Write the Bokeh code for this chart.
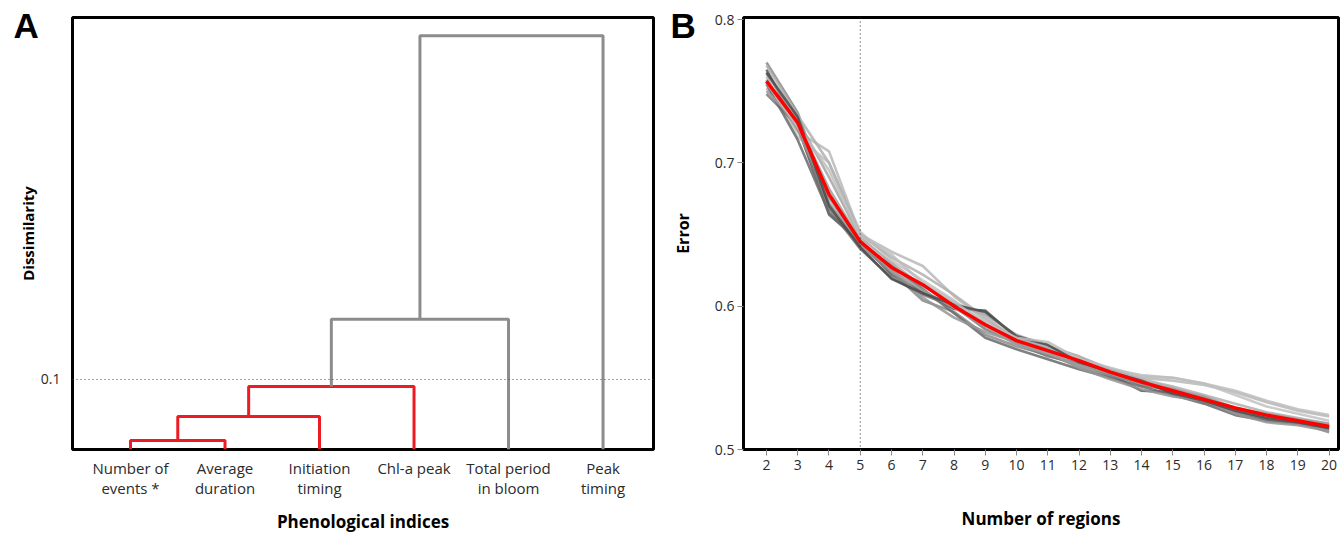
from bokeh.plotting import figure
from bokeh.layouts import row
from bokeh.models import Range1d, FixedTicker, Span, Title
from bokeh.embed import file_html
from bokeh.resources import INLINE

# ---------------- Panel A data ----------------
leaf_labels = ["Number of\nevents *", "Average\nduration", "Initiation\ntiming",
               "Chl-a peak", "Total period\nin bloom", "Peak\ntiming"]
# successive merges: cluster(so far) joined with next leaf at this height
merge_heights = [0.013, 0.047, 0.090, 0.186, 0.591]
cut_height = 0.1

# ---------------- Panel B data ----------------
n_regions = [2, 3, 4, 5, 6, 7, 8, 9, 10, 11, 12, 13, 14, 15, 16, 17, 18, 19, 20]
mean_error = [0.757, 0.728, 0.678, 0.645, 0.627, 0.615, 0.600, 0.587, 0.576, 0.569,
              0.562, 0.554, 0.547, 0.541, 0.535, 0.529, 0.524, 0.520, 0.516]
run01 = [0.765, 0.725, 0.664, 0.645, 0.622, 0.610, 0.598, 0.597, 0.578, 0.570, 0.560, 0.552, 0.541, 0.540, 0.536, 0.526, 0.521, 0.518, 0.514]
run02 = [0.752, 0.722, 0.708, 0.650, 0.638, 0.628, 0.607, 0.590, 0.578, 0.572, 0.563, 0.556, 0.550, 0.548, 0.545, 0.540, 0.533, 0.527, 0.523]
run03 = [0.760, 0.718, 0.700, 0.652, 0.632, 0.618, 0.604, 0.588, 0.575, 0.567, 0.562, 0.556, 0.552, 0.550, 0.546, 0.538, 0.530, 0.525, 0.520]
run04 = [0.770, 0.735, 0.672, 0.642, 0.624, 0.604, 0.596, 0.580, 0.572, 0.566, 0.558, 0.551, 0.547, 0.540, 0.533, 0.526, 0.522, 0.519, 0.512]
run05 = [0.748, 0.726, 0.668, 0.640, 0.620, 0.608, 0.600, 0.584, 0.574, 0.565, 0.560, 0.553, 0.545, 0.541, 0.536, 0.528, 0.524, 0.520, 0.516]
run06 = [0.762, 0.730, 0.690, 0.648, 0.630, 0.614, 0.602, 0.594, 0.580, 0.572, 0.565, 0.556, 0.548, 0.543, 0.535, 0.527, 0.523, 0.520, 0.517]
run07 = [0.755, 0.716, 0.665, 0.644, 0.628, 0.612, 0.595, 0.578, 0.570, 0.563, 0.556, 0.550, 0.544, 0.538, 0.532, 0.524, 0.520, 0.518, 0.515]
run08 = [0.768, 0.733, 0.700, 0.650, 0.634, 0.622, 0.608, 0.592, 0.577, 0.571, 0.562, 0.555, 0.549, 0.544, 0.538, 0.532, 0.526, 0.522, 0.518]
run09 = [0.758, 0.723, 0.676, 0.643, 0.626, 0.606, 0.592, 0.582, 0.575, 0.568, 0.557, 0.549, 0.542, 0.537, 0.534, 0.525, 0.519, 0.517, 0.513]
run10 = [0.750, 0.728, 0.682, 0.646, 0.625, 0.611, 0.599, 0.586, 0.573, 0.567, 0.559, 0.553, 0.546, 0.542, 0.537, 0.529, 0.525, 0.521, 0.518]
run11 = [0.763, 0.732, 0.670, 0.641, 0.619, 0.609, 0.601, 0.596, 0.579, 0.573, 0.561, 0.554, 0.548, 0.539, 0.534, 0.527, 0.522, 0.519, 0.515]
run12 = [0.756, 0.725, 0.695, 0.649, 0.636, 0.616, 0.603, 0.588, 0.578, 0.575, 0.563, 0.557, 0.551, 0.550, 0.546, 0.541, 0.534, 0.528, 0.524]
runs = [run01, run02, run03, run04, run05, run06, run07, run08, run09, run10, run11, run12]
run_colors = ["#5a5a5a", "#b8b8b8", "#c2c2c2", "#8a8a8a", "#7a7a7a", "#a5a5a5",
              "#6a6a6a", "#b0b0b0", "#959595", "#9d9d9d", "#4a4a4a", "#bdbdbd"]
selected_k = 5

FONT = "Open Sans"
TXT = "#2b2b2b"


def panel_letter(txt, offset):
    return Title(text=txt, align="left", offset=offset, standoff=-54,
                 text_font="Liberation Sans", text_font_style="bold",
                 text_font_size="35px", text_color="black")


# ================= Panel A =================
pA = figure(width=660, height=533, output_backend="svg", toolbar_location=None,
            x_range=Range1d(-0.614, 5.534), y_range=Range1d(0, 0.617),
            min_border_left=72, min_border_right=7, min_border_top=17, min_border_bottom=84)
pA.frame_width = 581
pA.frame_height = 432
pA.grid.visible = False
pA.outline_line_color = "black"
pA.outline_line_width = 3
pA.background_fill_color = "white"

# dendrogram built from merge data
cur_x, cur_h = 0.0, 0.0
red_xs, red_ys, gray_xs, gray_ys = [], [], [], []
for i, h in enumerate(merge_heights):
    leaf_x = float(i + 1)
    xs = [cur_x, cur_x, leaf_x, leaf_x]
    ys = [cur_h, h, h, 0.0]
    if h < cut_height:
        red_xs.append(xs); red_ys.append(ys)
    else:
        gray_xs.append(xs); gray_ys.append(ys)
    cur_x, cur_h = (cur_x + leaf_x) / 2.0, h

pA.multi_line(red_xs, red_ys, line_color="#ED1C24", line_width=3)
pA.multi_line(gray_xs, gray_ys, line_color="#8c8c8c", line_width=3)
pA.add_layout(Span(location=cut_height, dimension="width", line_color="#444444",
                   line_width=1, line_dash="1 3"))

pA.xaxis.ticker = FixedTicker(ticks=list(range(len(leaf_labels))))
pA.xaxis.major_label_overrides = {i: lab for i, lab in enumerate(leaf_labels)}
pA.xaxis.major_tick_line_color = None
pA.xaxis.minor_tick_line_color = None
pA.xaxis.axis_line_color = None
pA.xaxis.major_label_text_font = FONT
pA.xaxis.major_label_text_font_size = "15px"
pA.xaxis.major_label_text_line_height = 1.0
pA.xaxis.major_label_text_color = TXT
pA.xaxis.major_label_standoff = 2
pA.xaxis.axis_label = "Phenological indices"
pA.xaxis.axis_label_text_font = FONT
pA.xaxis.axis_label_text_font_style = "bold"
pA.xaxis.axis_label_text_font_size = "17px"
pA.xaxis.axis_label_text_color = "black"
pA.xaxis.axis_label_standoff = 9

pA.yaxis.ticker = FixedTicker(ticks=[cut_height])
pA.yaxis.major_label_overrides = {cut_height: "0.1"}
pA.yaxis.major_tick_line_color = None
pA.yaxis.minor_tick_line_color = None
pA.yaxis.axis_line_color = None
pA.yaxis.major_label_text_font = FONT
pA.yaxis.major_label_text_font_size = "14px"
pA.yaxis.major_label_text_color = TXT
pA.yaxis.major_label_standoff = 6
pA.yaxis.axis_label = "Dissimilarity"
pA.yaxis.axis_label_text_font = FONT
pA.yaxis.axis_label_text_font_style = "bold"
pA.yaxis.axis_label_text_font_size = "15px"
pA.yaxis.axis_label_text_color = "black"
pA.yaxis.axis_label_standoff = 0

pA.add_layout(panel_letter("A", -59), "above")

# ================= Panel B =================
pB = figure(width=681, height=533, output_backend="svg", toolbar_location=None,
            x_range=Range1d(1.265, 20.3), y_range=Range1d(0.5, 0.8014),
            min_border_left=83, min_border_right=3, min_border_top=17, min_border_bottom=84)
pB.frame_width = 595
pB.frame_height = 432
pB.grid.visible = False
pB.outline_line_color = "black"
pB.outline_line_width = 3

for r, c in zip(runs, run_colors):
    pB.line(n_regions, r, line_color=c, line_width=2.6, line_alpha=0.85)
pB.line(n_regions, mean_error, line_color="#FF0000", line_width=3.5)
pB.add_layout(Span(location=selected_k, dimension="height", line_color="#222222",
                   line_width=1, line_dash="1 3"))

pB.xaxis.ticker = FixedTicker(ticks=n_regions)
pB.xaxis.major_tick_line_color = "#888888"
pB.xaxis.major_tick_in = 0
pB.xaxis.major_tick_out = 6
pB.xaxis.minor_tick_line_color = None
pB.xaxis.axis_line_color = None
pB.xaxis.major_label_text_font = FONT
pB.xaxis.major_label_text_font_size = "14px"
pB.xaxis.major_label_text_color = TXT
pB.xaxis.major_label_standoff = 4
pB.xaxis.axis_label = "Number of regions"
pB.xaxis.axis_label_text_font = FONT
pB.xaxis.axis_label_text_font_style = "bold"
pB.xaxis.axis_label_text_font_size = "17px"
pB.xaxis.axis_label_text_color = "black"
pB.xaxis.axis_label_standoff = 34

pB.yaxis.ticker = FixedTicker(ticks=[0.5, 0.6, 0.7, 0.8])
pB.yaxis.major_tick_line_color = "#888888"
pB.yaxis.major_tick_in = 0
pB.yaxis.major_tick_out = 6
pB.yaxis.minor_tick_line_color = None
pB.yaxis.axis_line_color = None
pB.yaxis.major_label_text_font = FONT
pB.yaxis.major_label_text_font_size = "14px"
pB.yaxis.major_label_text_color = TXT
pB.yaxis.major_label_standoff = 3
pB.yaxis.axis_label = "Error"
pB.yaxis.axis_label_text_font = FONT
pB.yaxis.axis_label_text_font_style = "bold"
pB.yaxis.axis_label_text_font_size = "16px"
pB.yaxis.axis_label_text_color = "black"
pB.yaxis.axis_label_standoff = 18

pB.add_layout(panel_letter("B", -73), "above")

layout = row(pA, pB, spacing=0)
open("out.html", "w").write(file_html(layout, INLINE))
